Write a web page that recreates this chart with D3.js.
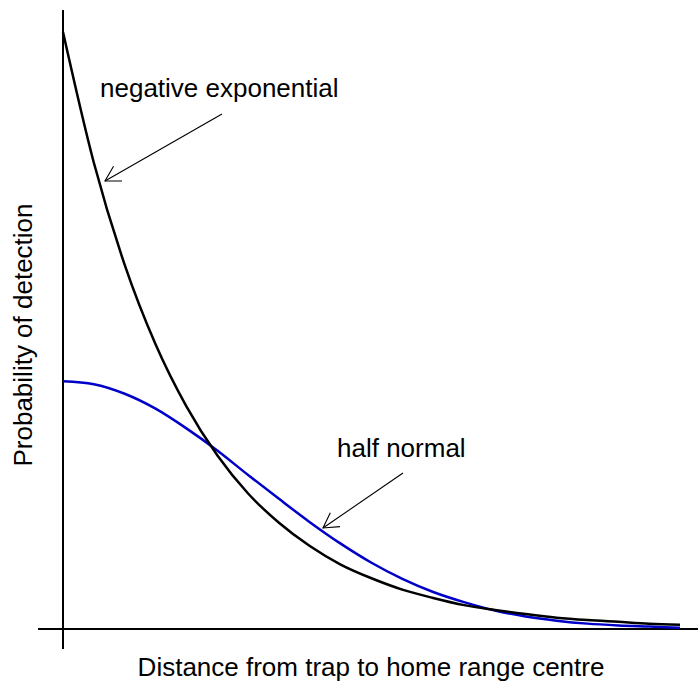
<!DOCTYPE html>
<html>
<head>
<meta charset="utf-8">
<script src="https://cdn.jsdelivr.net/npm/d3@7"></script>
<style>
  html, body { margin: 0; padding: 0; background: #ffffff; }
  svg { display: block; }
  text { font-family: "Liberation Sans", Arial, sans-serif; fill: #000; }
</style>
</head>
<body>
<svg id="chart" width="698" height="681"></svg>
<script>
// distance from trap (arbitrary units)
const distance = [0, 0.25, 0.5, 0.75, 1.0, 1.25, 1.5, 1.75, 2.0, 2.25, 2.5,
                  2.75, 3.0, 3.25, 3.5, 3.75, 4.0, 4.25, 4.5, 4.75, 5.0];
// probability of detection (relative), negative exponential curve
const negExp = [1.000, 0.781, 0.610, 0.477, 0.373, 0.291, 0.227, 0.178, 0.139, 0.108, 0.085,
                0.066, 0.052, 0.040, 0.032, 0.025, 0.019, 0.015, 0.012, 0.009, 0.007];
// half normal curve
const halfNormal = [0.415, 0.410, 0.394, 0.369, 0.336, 0.299, 0.258, 0.218, 0.179, 0.143, 0.111,
                    0.084, 0.062, 0.045, 0.031, 0.021, 0.014, 0.009, 0.006, 0.004, 0.002];
const labels = ["negative exponential", "half normal"];
const xTitle = "Distance from trap to home range centre";
const yTitle = "Probability of detection";

const svg = d3.select("#chart");
const x = d3.scaleLinear().domain([0, 5]).range([63, 680]);
const y = d3.scaleLinear().domain([0, 1]).range([629, 32]);

// axes (plain lines, no ticks)
svg.append("line").attr("x1", 38).attr("x2", 698).attr("y1", y(0)).attr("y2", y(0))
   .attr("stroke", "#000").attr("stroke-width", 2);
svg.append("line").attr("x1", x(0)).attr("x2", x(0)).attr("y1", 10).attr("y2", 649)
   .attr("stroke", "#000").attr("stroke-width", 2);

const line = d3.line().x(d => x(d[0])).y(d => y(d[1])).curve(d3.curveMonotoneX);

svg.append("path").datum(distance.map((d, i) => [d, halfNormal[i]]))
   .attr("d", line).attr("fill", "none").attr("stroke", "#0000c8").attr("stroke-width", 2.5);
svg.append("path").datum(distance.map((d, i) => [d, negExp[i]]))
   .attr("d", line).attr("fill", "none").attr("stroke", "#000").attr("stroke-width", 2.5);

// annotation arrows
function arrow(x1, y1, x2, y2) {
  const g = svg.append("g").attr("stroke", "#000").attr("stroke-width", 1.1).attr("fill", "none");
  g.append("line").attr("x1", x1).attr("y1", y1).attr("x2", x2).attr("y2", y2);
  const ang = Math.atan2(y1 - y2, x1 - x2);
  const L = 17, a = Math.PI / 6;
  const p1 = [x2 + L * Math.cos(ang + a), y2 + L * Math.sin(ang + a)];
  const p2 = [x2 + L * Math.cos(ang - a), y2 + L * Math.sin(ang - a)];
  g.append("path").attr("d", `M${p1[0]},${p1[1]}L${x2},${y2}L${p2[0]},${p2[1]}`);
}
arrow(222, 114, 105, 181);
arrow(403, 473, 323, 528);

svg.append("text").attr("x", 100).attr("y", 97).attr("font-size", 26).text(labels[0]);
svg.append("text").attr("x", 337).attr("y", 457).attr("font-size", 26).text(labels[1]);

svg.append("text").attr("x", 371).attr("y", 676).attr("text-anchor", "middle")
   .attr("font-size", 26).text(xTitle);
svg.append("text").attr("transform", "translate(32,335) rotate(-90)")
   .attr("text-anchor", "middle").attr("font-size", 26).text(yTitle);
</script>
</body>
</html>
